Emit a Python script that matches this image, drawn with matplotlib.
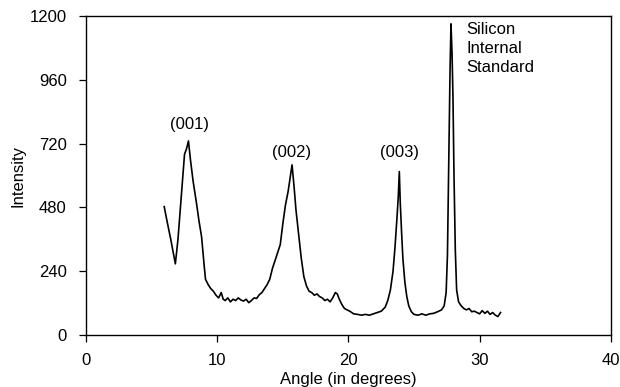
import matplotlib
matplotlib.use("Agg")
import matplotlib.pyplot as plt

# XRD pattern
angle = [5.95, 6.2, 6.45, 6.6, 6.8, 7.0, 7.25, 7.5, 7.65, 7.8, 7.95, 8.15, 8.4, 8.6, 8.8,
         9.0, 9.1, 9.3, 9.5, 9.7, 9.9, 10.1, 10.3, 10.45, 10.6, 10.8, 11.0, 11.2, 11.4,
         11.6, 11.8, 12.0, 12.2, 12.4, 12.6, 12.8, 13.0, 13.2, 13.4, 13.6, 13.8, 14.0,
         14.2, 14.4, 14.6, 14.8, 15.0, 15.2, 15.4, 15.55, 15.7, 15.85, 16.0, 16.2, 16.4,
         16.6, 16.8, 17.0, 17.2, 17.4, 17.6, 17.8, 18.0, 18.2, 18.4, 18.6, 18.8, 19.0,
         19.15, 19.3, 19.5, 19.7, 19.9, 20.1, 20.4, 20.7, 21.0, 21.3, 21.6, 21.9, 22.2,
         22.5, 22.8, 23.0, 23.2, 23.4, 23.55, 23.7, 23.8, 23.88, 23.95, 24.05, 24.15,
         24.3, 24.45, 24.6, 24.8, 25.0, 25.3, 25.6, 25.9, 26.2, 26.5, 26.8, 27.1, 27.3,
         27.45, 27.55, 27.65, 27.75, 27.82, 27.9, 27.97, 28.05, 28.15, 28.25, 28.4, 28.6,
         28.8, 29.0, 29.2, 29.4, 29.6, 29.8, 30.0, 30.2, 30.4, 30.6, 30.8, 31.0, 31.2,
         31.4, 31.6]
intensity = [483, 420, 360, 320, 268, 360, 520, 680, 700, 730, 660, 580, 500, 430, 370,
             260, 210, 190, 175, 165, 150, 140, 160, 135, 130, 140, 125, 135, 130,
             140, 132, 128, 135, 122, 130, 140, 138, 152, 160, 175, 190, 210,
             250, 280, 310, 340, 420, 490, 540, 590, 640, 560, 470, 380, 290,
             220, 185, 165, 160, 150, 155, 145, 140, 130, 135, 125, 140, 160,
             155, 135, 115, 100, 95, 90, 80, 78, 75, 78, 75, 80, 85,
             90, 105, 130, 170, 240, 330, 440, 520, 615, 500, 390, 290,
             200, 145, 110, 88, 78, 75, 80, 75, 80, 82, 88, 95, 110,
             160, 300, 650, 1000, 1170, 1060, 900, 600, 320, 170, 125, 110,
             100, 95, 100, 88, 90, 85, 80, 92, 82, 90, 78, 85, 75,
             70, 85]

peak_labels = ["(001)", "(002)", "(003)"]
peak_angles = [7.9, 15.7, 23.9]
peak_label_y = [790, 688, 688]

x_ticks = [0, 10, 20, 30, 40]
y_ticks = [0, 240, 480, 720, 960, 1200]

plt.rcParams['font.family'] = ['Liberation Sans', 'DejaVu Sans']

fig = plt.figure(figsize=(6.2, 3.87), dpi=100)
ax = fig.add_axes([0.139, 0.134, 0.846, 0.825])

ax.plot(angle, intensity, color="black", linewidth=1.2)

for lab, xa, ya in zip(peak_labels, peak_angles, peak_label_y):
    ax.text(xa, ya, lab, ha="center", va="center", fontsize=12)

ax.text(29.0, 1178, "Silicon\nInternal\nStandard", ha="left", va="top",
        fontsize=12, linespacing=1.35)

ax.set_xlim(0, 40)
ax.set_ylim(0, 1200)
ax.set_xticks(x_ticks)
ax.set_yticks(y_ticks)
ax.tick_params(direction="out", length=5, width=0.9, labelsize=12)
ax.tick_params(axis="x", pad=8)
ax.tick_params(axis="y", pad=9)
ax.set_xlabel("Angle (in degrees)", fontsize=12, labelpad=3)
ax.set_ylabel("Intensity", fontsize=12, labelpad=3)
for sp in ax.spines.values():
    sp.set_linewidth(1.0)

fig.savefig("out.png", dpi=100)
